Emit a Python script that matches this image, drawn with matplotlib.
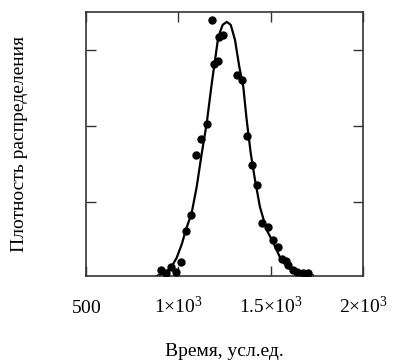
import matplotlib
matplotlib.use("Agg")
import matplotlib.pyplot as plt

# Experimental points (time, density)
pts_x = [906, 933, 960, 987, 1014, 1041, 1069, 1096, 1123, 1154, 1182, 1195, 1215,
         1222, 1243, 1316, 1346, 1370, 1397, 1424, 1451, 1487, 1511, 1538, 1560,
         1583, 1595, 1623, 1641, 1673, 1704]
pts_y = [0.10, 0.064, 0.14, 0.077, 0.20, 0.62, 0.82, 1.62, 1.82, 2.02, 3.39, 2.82, 2.86,
         3.17, 3.20, 2.67, 2.61, 1.87, 1.48, 1.22, 0.72, 0.67, 0.50, 0.40, 0.25,
         0.22, 0.17, 0.10, 0.077, 0.064, 0.064]

curve_x = [880, 928, 960, 991, 1020, 1041, 1072, 1099, 1127, 1154, 1181, 1199, 1216,
           1240, 1262, 1284, 1307, 1330, 1352, 1370, 1392, 1415, 1442, 1478, 1514,
           1550, 1595, 1659, 1729]
curve_y = [0.02, 0.06, 0.13, 0.26, 0.45, 0.63, 0.85, 1.19, 1.64, 2.04, 2.56, 2.87, 3.17,
           3.33, 3.37, 3.33, 3.13, 2.78, 2.51, 2.08, 1.64, 1.29, 0.93, 0.63, 0.46,
           0.27, 0.13, 0.05, 0.03]

xticks = [500, 1000, 1500, 2000]
xtick_labels = [r"$500$", r"$1{\times}10^{3}$", r"$1.5{\times}10^{3}$", r"$2{\times}10^{3}$"]
yticks = [1, 2, 3]

plt.rcParams['font.family'] = ['Liberation Serif', 'DejaVu Serif']
plt.rcParams['mathtext.fontset'] = 'custom'
plt.rcParams['mathtext.rm'] = 'Liberation Serif'
plt.rcParams['mathtext.it'] = 'Liberation Serif:italic'
plt.rcParams['mathtext.default'] = 'rm'

FS = 14

fig = plt.figure(figsize=(3.93, 3.61), dpi=100)
ax = fig.add_axes([86/393, 1-275.7/361, 277/393, 263.7/361])

ax.plot(curve_x, curve_y, color='black', lw=1.6, zorder=2)
ax.plot(pts_x, pts_y, 'o', color='black', ms=5, zorder=3)

ax.set_xlim(500, 2000)
ax.set_ylim(0.025, 3.5)
ax.set_xticks(xticks)
ax.set_xticklabels(xtick_labels)
ax.set_yticks(yticks)
ax.set_yticklabels([])
ax.tick_params(direction='in', top=True, right=True, length=7, width=1,
               color='#333333', labelsize=FS)
ax.tick_params(axis='x', pad=27)
for lbl in ax.get_xticklabels():
    lbl.set_va('baseline')
for s in ax.spines.values():
    s.set_color('#333333')
    s.set_linewidth(1.2)

ax.set_xlabel("Время, усл.ед.", fontsize=FS, va='top')
ax.set_ylabel("Плотность распределения", fontsize=FS)
ax.xaxis.set_label_coords(0.5, -0.255)
ax.yaxis.set_label_coords(-0.209, 0.5)

fig.savefig("out.png", dpi=100)
